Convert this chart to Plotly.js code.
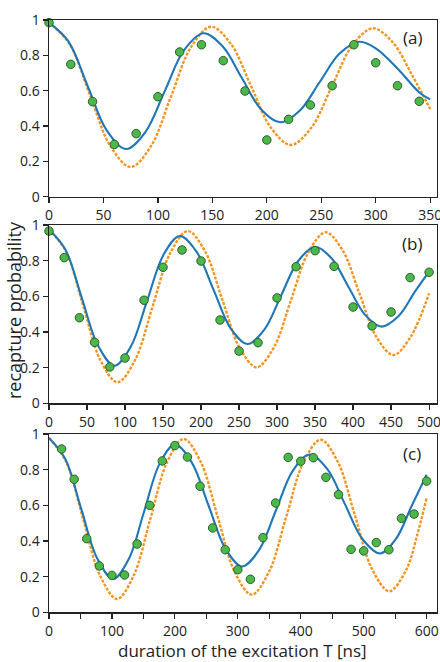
<!DOCTYPE html>
<html>
<head>
<meta charset="utf-8">
<script src="https://cdn.plot.ly/plotly-3.0.1.min.js"></script>
<style>
html,body{margin:0;padding:0;background:#fff;}
#chart{width:440px;height:662px;}
</style>
</head>
<body>
<div id="chart"></div>
<script>
// ---------- Panel (a) ----------
var a_dataX = [0,20,40,60,80,100,120,140,160,180,200,220,240,260,280,300,320,340];
var a_dataY = [0.985,0.749,0.538,0.296,0.357,0.566,0.819,0.860,0.770,0.598,0.321,0.438,0.519,0.628,0.860,0.758,0.628,0.540];
var a_blueX = [0,17.7,35.4,53,70.7,88.5,106.3,124,141.8,159.4,177,194.6,212.2,230.4,248.6,266.8,285,300,320,340,350];
var a_blueY = [0.985,0.880,0.628,0.375,0.270,0.366,0.598,0.829,0.925,0.851,0.673,0.495,0.421,0.488,0.649,0.810,0.877,0.84,0.726,0.59,0.551];
var a_orangeX = [0,18.75,37.5,56.25,75,93.45,111.9,130.35,148.8,167.1,185.4,203.7,222,240.8,259.65,278.5,297.3,315.6,333.9,350];
var a_orangeY = [0.985,0.865,0.577,0.288,0.168,0.284,0.565,0.846,0.962,0.864,0.628,0.391,0.293,0.390,0.623,0.856,0.953,0.874,0.682,0.496];

// ---------- Panel (b) ----------
var b_dataX = [0,20,40,60,80,100,125,150,175,200,225,250,275,300,325,350,375,400,425,450,475,500];
var b_dataY = [0.966,0.817,0.480,0.342,0.204,0.254,0.578,0.763,0.860,0.798,0.467,0.293,0.340,0.591,0.766,0.856,0.768,0.540,0.434,0.512,0.705,0.735];
var b_blueX = [0,21.5,43,64.5,86,107.5,129,150.5,172,194.25,216.5,238.75,261,283.25,305.5,327.75,350,371.9,393.85,415.8,437.7,459.9,482,500];
var b_blueY = [0.975,0.863,0.593,0.323,0.211,0.317,0.575,0.832,0.938,0.849,0.636,0.422,0.333,0.413,0.606,0.798,0.878,0.812,0.654,0.496,0.430,0.489,0.63,0.738];
var b_orangeX = [0,22.5,45,67.5,90,113.1,136.25,159.4,182.5,205.1,227.75,250.4,273,295.75,318.5,341.25,364,386.25,408.5,430.75,453,475.5,500];
var b_orangeY = [0.975,0.850,0.547,0.243,0.118,0.242,0.542,0.842,0.966,0.854,0.584,0.314,0.202,0.313,0.581,0.848,0.959,0.858,0.615,0.372,0.271,0.371,0.617];

// ---------- Panel (c) ----------
var c_dataX = [20,40,60,80,100,120,140,160,180,200,220,240,260,280,300,320,340,360,380,400,420,440,460,480,500,520,540,560,580,600];
var c_dataY = [0.916,0.746,0.413,0.260,0.207,0.209,0.383,0.600,0.849,0.935,0.871,0.707,0.473,0.351,0.239,0.185,0.419,0.613,0.869,0.847,0.867,0.757,0.660,0.353,0.344,0.391,0.351,0.527,0.551,0.736];
var c_blueX = [0,25.5,51,76.5,102,126.5,151,175.5,200,226.75,253.5,280.25,307,333.75,360.5,387.25,414,442,470,498,526,551,576,600];
var c_blueY = [0.978,0.862,0.583,0.303,0.187,0.297,0.564,0.831,0.941,0.841,0.599,0.357,0.257,0.349,0.571,0.793,0.885,0.804,0.608,0.411,0.330,0.41,0.595,0.772];
var c_orangeX = [0,27,54,81,108,134.5,161,187.5,214,241,268,295,322,349.4,376.8,404.2,431.6,458.85,486.1,513.35,540.6,567.9,584,600];
var c_orangeY = [0.978,0.846,0.527,0.207,0.075,0.206,0.524,0.841,0.972,0.844,0.536,0.227,0.099,0.226,0.534,0.841,0.968,0.844,0.543,0.242,0.118,0.241,0.42,0.641];

var panelLabels = ['(a)','(b)','(c)'];
var yTitle = 'recapture probability';
var xTitle = 'duration of the excitation T [ns]';

var BLUE = '#1f77b8';
var ORANGE = '#f7941d';
var GREEN = '#4cb84a';
var FONT = 'Open Sans, Noto Sans, sans-serif';

function fit(x, y, color, dash, width, xa, ya) {
  return {x:x, y:y, type:'scatter', mode:'lines', xaxis:xa, yaxis:ya,
    line:{color:color, width:width, dash:dash, shape:'spline', smoothing:1}, hoverinfo:'skip'};
}
function pts(x, y, xa, ya) {
  return {x:x, y:y, type:'scatter', mode:'markers', xaxis:xa, yaxis:ya, cliponaxis:false,
    marker:{color:GREEN, size:8.5, line:{color:'#2b5f2b', width:1}}, hoverinfo:'skip'};
}

var traces = [
  fit(a_orangeX, a_orangeY, ORANGE, '3px,1.5px', 2.4, 'x', 'y'),
  fit(a_blueX, a_blueY, BLUE, 'solid', 2.1, 'x', 'y'),
  pts(a_dataX, a_dataY, 'x', 'y'),
  fit(b_orangeX, b_orangeY, ORANGE, '3px,1.5px', 2.4, 'x2', 'y2'),
  fit(b_blueX, b_blueY, BLUE, 'solid', 2.1, 'x2', 'y2'),
  pts(b_dataX, b_dataY, 'x2', 'y2'),
  fit(c_orangeX, c_orangeY, ORANGE, '3px,1.5px', 2.4, 'x3', 'y3'),
  fit(c_blueX, c_blueY, BLUE, 'solid', 2.1, 'x3', 'y3'),
  pts(c_dataX, c_dataY, 'x3', 'y3')
];

var W = 440, H = 662;
var xdom = [49/W, 436.7/W];
function xax(range, anchor, dtick, minor) {
  var o = {domain:xdom, range:range, anchor:anchor, dtick:dtick, tick0:0,
    showgrid:false, zeroline:false, showline:true, mirror:true,
    linecolor:'#222', linewidth:1.5, ticks:'outside', ticklen:5, tickwidth:1.2, tickcolor:'#222',
    ticklabeloverflow:'allow',
    tickfont:{family:FONT, size:14, color:'#222'}, fixedrange:true};
  if (minor) o.minor = {dtick:50, ticks:'outside', ticklen:5, tickwidth:1.2, tickcolor:'#222', showgrid:false};
  return o;
}
function yax(top, bottom, anchor) {
  return {domain:[1-bottom/H, 1-top/H], range:[0,1], anchor:anchor, dtick:0.2, tick0:0,
    showgrid:false, zeroline:false, showline:true, mirror:true,
    linecolor:'#222', linewidth:1.5, ticks:'outside', ticklen:5, tickwidth:1.2, tickcolor:'#222',
    ticklabeloverflow:'allow',
    tickfont:{family:FONT, size:14, color:'#222'}, fixedrange:true};
}

var layout = {
  width:W, height:H, showlegend:false,
  margin:{l:0, r:0, t:0, b:0},
  paper_bgcolor:'#fff', plot_bgcolor:'#fff',
  font:{family:FONT, color:'#222'},
  xaxis: xax([0,356], 'y', 50, false),
  yaxis: yax(20, 196.7, 'x'),
  xaxis2: xax([0,510], 'y2', 50, false),
  yaxis2: yax(225, 403.3, 'x2'),
  xaxis3: xax([0,616], 'y3', 100, true),
  yaxis3: yax(434, 612.3, 'x3'),
  annotations: [
    {text:panelLabels[0], xref:'paper', yref:'paper', x:412/W, y:1-38/H, showarrow:false, xanchor:'center', yanchor:'middle', font:{family:FONT, size:17, color:'#222'}},
    {text:panelLabels[1], xref:'paper', yref:'paper', x:412/W, y:1-243/H, showarrow:false, xanchor:'center', yanchor:'middle', font:{family:FONT, size:17, color:'#222'}},
    {text:panelLabels[2], xref:'paper', yref:'paper', x:412/W, y:1-453/H, showarrow:false, xanchor:'center', yanchor:'middle', font:{family:FONT, size:17, color:'#222'}},
    {text:yTitle, xref:'paper', yref:'paper', x:0, y:1-310/H, showarrow:false, textangle:-90, xanchor:'left', yanchor:'middle', font:{family:FONT, size:18, color:'#222'}},
    {text:xTitle, xref:'paper', yref:'paper', x:242/W, y:1-650/H, showarrow:false, xanchor:'center', yanchor:'middle', font:{family:FONT, size:17, color:'#222'}}
  ]
};

Plotly.newPlot('chart', traces, layout, {displayModeBar:false, staticPlot:true});
</script>
</body>
</html>
